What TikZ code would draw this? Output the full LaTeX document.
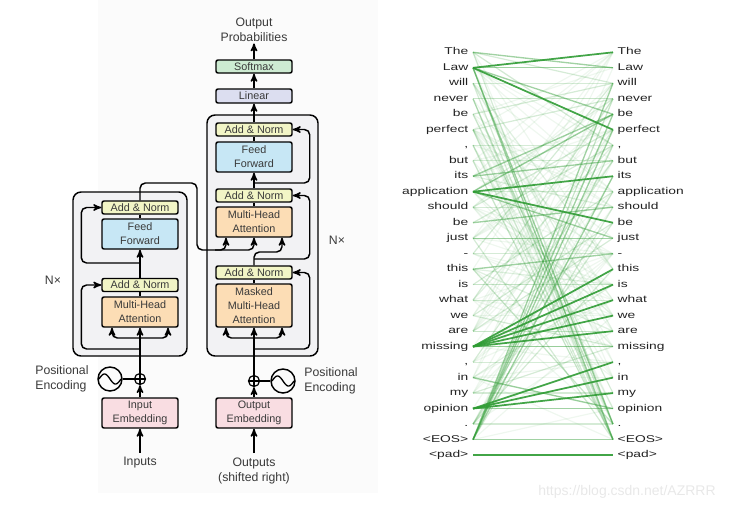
\documentclass[tikz,border=0pt]{standalone}
\usepackage{fontspec}
\setmainfont{Liberation Sans}
\newfontfamily\wordfont[FakeStretch=1.4]{Liberation Sans}
\usetikzlibrary{arrows, positioning}

\definecolor{colorNorm}{HTML}{F2F5C6}
\definecolor{colorFeed}{HTML}{C7E7F5}
\definecolor{colorAttn}{HTML}{FCDDB5}
\definecolor{colorSoft}{HTML}{CDEBD2}
\definecolor{colorLin}{HTML}{DCDEF0}
\definecolor{colorEmb}{HTML}{F9DDE2}
\definecolor{colorStack}{HTML}{F2F2F4}
\definecolor{colorPage}{HTML}{FBFBFB}
\definecolor{colorText}{HTML}{3A3A3A}
\definecolor{colorWord}{HTML}{222222}
\definecolor{colorLink}{HTML}{2E9B33}

\tikzset{
  block/.style={draw=black, line width=1.1pt, rounded corners=1.5pt, minimum width=57pt, align=center,
    font=\fontsize{8.1}{10.3}\selectfont, text=colorText, inner sep=0pt},
  addnorm/.style={block, fill=colorNorm, minimum height=9.75pt},
  feed/.style={block, fill=colorFeed, minimum height=22.5pt},
  attn/.style={block, fill=colorAttn, minimum height=22.5pt},
  embed/.style={block, fill=colorEmb, minimum height=22.5pt},
  stack/.style={draw=black, fill=colorStack, line width=1.1pt, rounded corners=6pt},
  caption/.style={font=\fontsize{9.2}{11.25}\selectfont, text=colorText, inner sep=1pt, align=center},
  word/.style={font=\wordfont\fontsize{7.4}{8}\selectfont, text=colorWord, inner xsep=3pt, inner ysep=0pt,
    text height=4pt, text depth=0pt},
  attS/.style={colorLink, line width=1.3pt, opacity=.9},
  attM/.style={colorLink, line width=1pt, opacity=.45},
  attF/.style={colorLink, line width=.9pt, opacity=.2},
  attV/.style={colorLink, line width=.9pt, opacity=.08}
}

\begin{document}
\begin{tikzpicture}[x=0.75pt, y=-0.75pt, >=stealth', line width=1.1pt]
\useasboundingbox (0,0) rectangle (736,511);
\fill[colorPage] (98,0) rectangle (378,493);

% stacks
\node[stack, minimum width=85.5pt, minimum height=123pt] (encStack) at (130,274) {};
\node[stack, minimum width=83.25pt, minimum height=180.75pt] (decStack) at (262.5,235.5) {};

% encoder
\node[attn] (eMHA) at (140,312) {Multi-Head\\Attention};
\node[addnorm] (eAN1) at (140,285) {Add \& Norm};
\node[feed] (eFF) at (140,234) {Feed\\Forward};
\node[addnorm] (eAN2) at (140,207.5) {Add \& Norm};
\node[embed] (eEmb) at (140,413) {Input\\Embedding};
\node[circle, draw, minimum size=8.25pt, inner sep=0pt, line width=.9pt] (eplus) at (140,379) {};
\node[circle, draw, minimum size=18pt, inner sep=0pt, line width=1.1pt] (esin) at (110,379) {};
\node[caption, align=left, left=5pt of esin] (ePos) {Positional\\Encoding};
\node[caption] (inTxt) at (140,463) {Inputs};
\node[caption] (eN) at (53,280) {N×};

% decoder
\node[attn, minimum height=32.25pt] (dMask) at (254,305.5) {Masked\\Multi-Head\\Attention};
\node[addnorm] (dAN1) at (254,272.5) {Add \& Norm};
\node[attn] (dMHA) at (254,222) {Multi-Head\\Attention};
\node[addnorm] (dAN2) at (254,195.5) {Add \& Norm};
\node[feed] (dFF) at (254,157) {Feed\\Forward};
\node[addnorm] (dAN3) at (254,129.5) {Add \& Norm};
\node[block, fill=colorLin, minimum height=10.5pt] (lin) at (254,96) {Linear};
\node[block, fill=colorSoft, minimum height=9.75pt] (soft) at (254,66.5) {Softmax};
\node[caption] (probTxt) at (254,29.5) {Output\\Probabilities};
\node[embed] (dEmb) at (254,413) {Output\\Embedding};
\node[circle, draw, minimum size=8.25pt, inner sep=0pt, line width=.9pt] (dplus) at (254,381) {};
\node[circle, draw, minimum size=18pt, inner sep=0pt, line width=1.1pt] (dsin) at (283,381) {};
\node[caption, align=left, right=5pt of dsin] (dPos) {Positional\\Encoding};
\node[caption] (outTxt) at (254,471) {Outputs\\(shifted right)};
\node[caption] (dN) at (337,240) {N×};

% plus and sine marks
\foreach \p in {eplus, dplus}
  \draw[line width=.8pt] (\p.north) -- (\p.south) (\p.west) -- (\p.east);
\foreach \s in {esin, dsin}
  \draw[shift={(\s.center)}, line width=1pt] plot[domain=-11:11, samples=40, smooth] (\x, {5*sin(16.36*\x)});
\draw (esin) -- (eplus);
\draw (dplus) -- (dsin);

% encoder flow
\draw[->, shorten <=2pt] (inTxt) -- (eEmb);
\draw[->] (eEmb) -- (eplus);
\draw[->] (eplus) -- (eMHA);
\draw[->, rounded corners=4pt] (140,338) -| ([xshift=-21pt]eMHA.south);
\draw[->, rounded corners=4pt] (140,338) -| ([xshift=21pt]eMHA.south);
\draw[->, rounded corners=4pt] (140,349) -| ([xshift=-15pt]eAN1.west) -- (eAN1.west);
\draw (eMHA) -- (eAN1);
\draw[->] (eAN1) -- (eFF);
\draw[->, rounded corners=4pt] (140,263) -| ([xshift=-15pt]eAN2.west) -- (eAN2.west);
\draw (eFF) -- (eAN2);
\draw[->, rounded corners=4pt] (eAN2.north) -- (140,183) -- (197,183) -- (197,250) -- (254,250) -- (dMHA.south);
\draw[->, rounded corners=4pt] (215,250) -| ([xshift=-21pt]dMHA.south);

% decoder flow
\draw[->, shorten <=2pt] (outTxt) -- (dEmb);
\draw[->] (dEmb) -- (dplus);
\draw[->] (dplus) -- (dMask);
\draw[->, rounded corners=4pt] (254,338) -| ([xshift=-21pt]dMask.south);
\draw[->, rounded corners=4pt] (254,338) -| ([xshift=21pt]dMask.south);
\draw[->, rounded corners=4pt] (254,349) -| ([xshift=12.75pt]dAN1.east) -- (dAN1.east);
\draw (dMask) -- (dAN1);
\draw[->, rounded corners=4pt] (dAN1.north) -- (254,252) -- (282,252) -- ([xshift=21pt]dMHA.south);
\draw[->, rounded corners=4pt] (254,259) -| ([xshift=12.75pt]dAN2.east) -- (dAN2.east);
\draw (dMHA) -- (dAN2);
\draw[->] (dAN2) -- (dFF);
\draw[->, rounded corners=4pt] (254,183) -| ([xshift=12.75pt]dAN3.east) -- (dAN3.east);
\draw (dFF) -- (dAN3);
\draw[->] (dAN3) -- (lin);
\draw[->] (lin) -- (soft);
\draw[->] (soft) -- (probTxt);

% attention words
\foreach \w [count=\i from 0] in {The,Law,will,never,be,perfect,{,},but,its,application,should,be,just,{-},this,is,what,we,are,missing,{,},in,my,opinion,{.},<EOS>,<pad>}{
  \node[word, anchor=east] (lw\i) at (473,{52.3+15.49*\i}) {\w};
  \node[word, anchor=west] (rw\i) at (613,{52.3+15.49*\i}) {\w};
}

% attention links
\pgfmathsetseed{42}
\foreach \k in {1,...,120}{
  \pgfmathrandominteger{\a}{0}{25}
  \pgfmathrandominteger{\b}{0}{25}
  \draw[attV] (lw\a.east) -- (rw\b.west);
}
\foreach \a/\b in {0/2, 2/2, 3/3, 4/2, 5/3, 6/6, 7/7, 10/10, 9/9, 13/13, 15/15, 16/16, 17/19, 18/18, 20/20,
  22/22, 24/24, 25/6, 25/3, 24/9, 24/11, 25/10, 2/25, 3/24, 0/24, 5/25, 4/22, 7/25, 10/5, 11/6, 13/2,
  15/9, 16/3, 17/11, 18/12, 20/7, 22/19, 24/14, 6/25, 12/25, 3/25, 14/24}
  \draw[attF] (lw\a.east) -- (rw\b.west);
\foreach \a/\b in {1/1, 1/4, 9/4, 9/12, 8/7, 8/4, 11/10, 12/12, 19/19, 23/23, 21/23, 25/25, 25/2, 25/4,
  25/5, 25/8, 1/25, 1/24, 0/1, 14/13}
  \draw[attM] (lw\a.east) -- (rw\b.west);
\foreach \a/\b in {1/0, 1/5, 9/8, 9/11, 19/14, 19/15, 19/16, 19/17, 19/18, 23/20, 23/21, 23/22, 26/26}
  \draw[attS] (lw\a.east) -- (rw\b.west);

\node[text=black!9, font=\fontsize{10.5}{12}\selectfont] (mark) at (627,492) {https://blog.csdn.net/AZRRR};
\end{tikzpicture}
\end{document}
